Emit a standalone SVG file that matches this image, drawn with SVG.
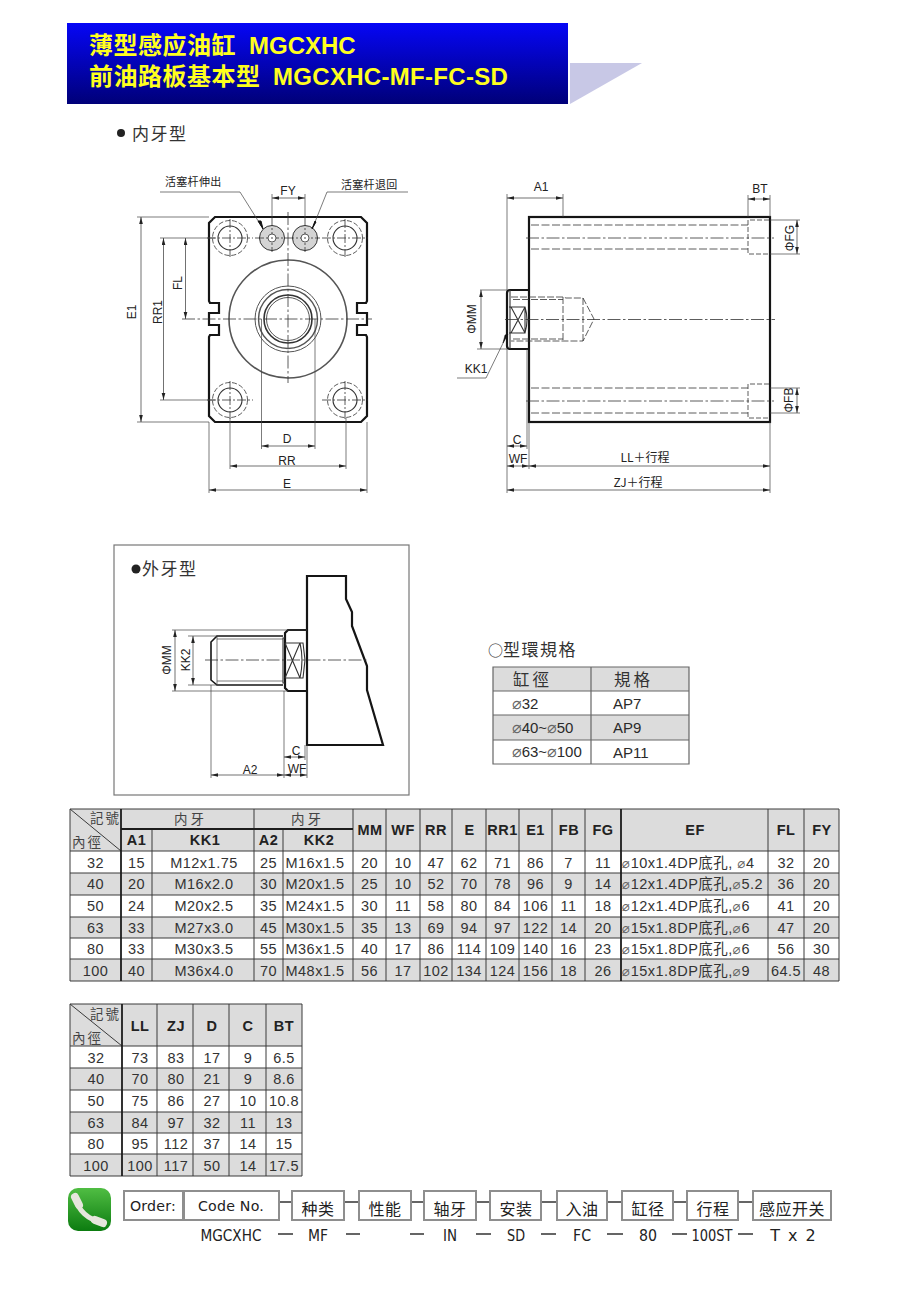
<svg xmlns="http://www.w3.org/2000/svg" xmlns:xlink="http://www.w3.org/1999/xlink" width="910" height="1295" viewBox="0 0 910 1295">
<style>
text{font-family:"Liberation Sans","Noto Sans CJK SC",sans-serif;fill:#2a2a2a}
.cjk{font-family:"Noto Sans CJK SC","Liberation Sans",sans-serif}
.tc{font-family:"Noto Sans CJK TC","Liberation Sans",sans-serif}
.title{font-size:24px;font-weight:700;fill:#ffff1e}
.sec{font-size:17px;letter-spacing:1.5px;fill:#333}
.lab{font-size:12px;text-anchor:middle;fill:#222}
.lead{font-size:11px;letter-spacing:.3px;fill:#222}
.thick{fill:none;stroke:#151515;stroke-width:2.2}
.mid{fill:none;stroke:#333;stroke-width:1.1}
.thin{fill:none;stroke:#444;stroke-width:.7}
.dim{fill:none;stroke:#333;stroke-width:.7;marker-start:url(#a);marker-end:url(#a)}
.cl{fill:none;stroke:#333;stroke-width:.8;stroke-dasharray:13 2.5 2.5 2.5}
.dash{fill:none;stroke:#333;stroke-width:.8;stroke-dasharray:8 2.5}
.cell{font-size:14.5px;letter-spacing:.5px;text-anchor:middle;fill:#333}
.left{text-anchor:start}
.hd{font-size:14.5px;font-weight:700;letter-spacing:.5px;text-anchor:middle;fill:#222}
.zh{font-size:13.5px;letter-spacing:2px;fill:#444}
.hbg{fill:#dcdcdc}
.grid{fill:none;stroke:#3a3a3a;stroke-width:1}
.gridb{fill:none;stroke:#1c1c1c;stroke-width:1.8}
.box{fill:#fff;stroke:#8e8e8e;stroke-width:2}
.ord{font-size:14.2px;letter-spacing:.2px;text-anchor:middle;fill:#222;font-family:"DejaVu Sans","Noto Sans CJK SC",sans-serif}
.ordz{font-size:16px;text-anchor:middle;fill:#222;letter-spacing:.5px}
.sel{font-size:16px;text-anchor:middle;fill:#222;font-family:"DejaVu Sans",sans-serif}
.conn{stroke:#333;stroke-width:1.5;fill:none}
.sp{stroke:#333;stroke-width:1.4;fill:none}
.dia{font-family:"DejaVu Sans",sans-serif;font-size:13.5px;fill:#666}
.dib{font-family:"DejaVu Sans",sans-serif;font-size:16px;fill:#666}
</style>
<defs>
<linearGradient id="bl" x1="0" y1="0" x2="0" y2="1"><stop offset="0" stop-color="#0606f6"/><stop offset="1" stop-color="#000078"/></linearGradient>
<linearGradient id="gr" x1="0" y1="0" x2="0" y2="1"><stop offset="0" stop-color="#50bd43"/><stop offset="1" stop-color="#0c7c10"/></linearGradient>
<marker id="a" markerUnits="userSpaceOnUse" markerWidth="8" markerHeight="5" refX="7" refY="2" orient="auto-start-reverse"><path d="M0 .2L7 2L0 3.8z" fill="#222"/></marker>
<g id="hole">
<circle r="12" class="mid"/>
<circle r="17.5" class="dash" style="stroke-dasharray:5 2"/>
<path d="M-23 0H23M0 -19V19" class="cl" style="stroke-dasharray:9 2 2 2"/>
</g>
</defs>
<rect width="910" height="1295" fill="#fff"/>

<g id="header">
<rect x="67" y="23" width="501" height="81" fill="url(#bl)"/>
<path d="M570 63H642L570 104z" fill="#c8c8e6"/>
<text class="title cjk" y="54"><tspan x="89" style="letter-spacing:.5px">薄型感应油缸</tspan><tspan x="249" style="font-family:'Liberation Sans'">MGCXHC</tspan></text>
<text class="title cjk" y="85"><tspan x="89" style="letter-spacing:.5px">前油路板基本型</tspan><tspan x="273" style="font-family:'Liberation Sans';letter-spacing:.3px">MGCXHC-MF-FC-SD</tspan></text>
</g>

<g id="front-view">
<circle cx="121" cy="133" r="4" fill="#222"/>
<text class="sec cjk" x="132" y="140">内牙型</text>
<path class="thick" d="M215 217H361L367 223V301L366 303H357V313H367V325H357V335H366L367 337V416L361 422H215L209 416V337L210 335H219V325H209V313H219V303H210L209 301V223z"/>
<use xlink:href="#hole" x="230" y="238"/><use xlink:href="#hole" x="345" y="238"/>
<use xlink:href="#hole" x="230" y="400"/><use xlink:href="#hole" x="345" y="400"/>
<circle cx="272" cy="238" r="12.500" fill="#d4d4d4" stroke="#333" stroke-width="1"/>
<circle cx="305" cy="238" r="12.500" fill="#d4d4d4" stroke="#333" stroke-width="1"/>
<path class="cl" d="M255 238H320M272 217V252M305 217V252" style="stroke-dasharray:9 2 2 2"/>
<circle cx="272" cy="238" r="4" fill="#fff" stroke="#333" stroke-width=".8"/>
<circle cx="305" cy="238" r="4" fill="#fff" stroke="#333" stroke-width=".8"/>
<circle cx="272" cy="238" r=".8" fill="#333"/>
<circle cx="305" cy="238" r=".8" fill="#333"/>
<circle cx="288" cy="319" r="59" fill="none" stroke="#555" stroke-width="1.6"/>
<circle cx="288" cy="319" r="33" fill="none" stroke="#555" stroke-width="1"/>
<circle cx="288" cy="319" r="29.500" fill="none" stroke="#555" stroke-width="1.4"/>
<circle cx="288" cy="319" r="24" fill="none" stroke="#333" stroke-width="1.6"/>
<circle cx="288" cy="319" r="21.500" fill="none" stroke="#555" stroke-width="1"/>
<path class="cl" d="M182 319H372M288 212V383"/>
<path class="thin" d="M137 217H209M137 422H209M160 238H215M160 400H215M272 194V217M305 194V217M209 422V493M367 422V493M230 418V469M346 418V469M261.500 319V449M315 319V449"/>
<path class="dim" d="M272 198H305"/>
<path class="dim" d="M141 217V422"/>
<path class="dim" d="M163.500 238V400"/>
<path class="dim" d="M185.500 238V319"/>
<path class="dim" d="M261.500 446H315"/>
<path class="dim" d="M230 466H346"/>
<path class="dim" d="M209 490H367"/>
<path class="thin" d="M160 192H240L262 227M408 192H327L313 227"/>
<path d="M258 221L263 229L261 221z" fill="#111" stroke="#111"/>
<path d="M315 221L312 229L316 222z" fill="#111" stroke="#111"/>
<text class="lead cjk" x="165" y="186">活塞杆伸出</text>
<text class="lead cjk" x="341" y="189">活塞杆退回</text>
<text class="lab" x="288" y="195">FY</text>
<text class="lab" x="287" y="443">D</text>
<text class="lab" x="287" y="465">RR</text>
<text class="lab" x="287" y="488">E</text>
<text class="lab" transform="translate(136 312) rotate(-90)">E1</text>
<text class="lab" transform="translate(162 312) rotate(-90)">RR1</text>
<text class="lab" transform="translate(182 283) rotate(-90)">FL</text>
</g>

<g id="side-view">
<rect class="thick" x="529" y="217" width="241" height="205"/>
<path class="thick" d="M529 290H510Q507 290 507 293V346Q507 349 510 349H529"/>
<path class="mid" d="M510 290V349M509 307H525V333H509M511 307L525 333M525 307L511 333M525 307Q529 320 525 333"/>
<path class="dash" d="M531 225H748M531 249H748M531 388H748M531 413H748"/>
<path class="cl" d="M526 238H774M526 401H774"/>
<path class="dash" d="M769 220H748V254H769M769 384H748V418H769" style="stroke-dasharray:5 2"/>
<path class="cl" d="M505 319.500H775"/>
<path class="dash" d="M511 297H563L566 298H583L594 319L583 341H566L563 341H511M563 297V341M583 298V341M513 299.500H563M513 339H563" style="stroke-dasharray:7 2"/>
<path class="thin" d="M507 194V290M507 349V493M563 194V217M748 195V217M770 195V217M480 290H507M477 349H507M770 220H800M770 254H800M770 388H800M770 413H800M529 422V469M770 422V493M527 349V449"/>
<path class="dim" d="M507 198H563"/>
<path class="dim" d="M748 199H770"/>
<path class="dim" d="M797 220V254"/>
<path class="dim" d="M797 388V413"/>
<path class="dim" d="M481 290V349"/>
<path class="dim" d="M507 446H527"/>
<path class="dim" d="M507 466H529"/>
<path class="dim" d="M529 466H770"/>
<path class="dim" d="M507 490H770"/>
<path class="thin" d="M457 378H486L507 335"/>
<path d="M505 335L508 334L503 343z" fill="#111" stroke="#111" stroke-width=".5"/>
<text class="lab" x="541" y="191">A1</text>
<text class="lab" x="760" y="193">BT</text>
<text class="lab" transform="translate(794 238) rotate(-90)">ΦFG</text>
<text class="lab" transform="translate(793 400) rotate(-90)">ΦFB</text>
<text class="lab" transform="translate(476 319) rotate(-90)">ΦMM</text>
<text class="lab" x="476" y="373">KK1</text>
<text class="lab" x="517" y="444">C</text>
<text class="lab" x="518" y="463">WF</text>
<text class="lab cjk" x="645" y="462">LL＋行程</text>
<text class="lab cjk" x="638" y="487">ZJ＋行程</text>
</g>

<g id="external-thread">
<rect x="114" y="545" width="295" height="250" fill="none" stroke="#777" stroke-width="1.2"/>
<circle cx="136" cy="569" r="4.500" fill="#222"/>
<text class="sec cjk" x="142" y="575">外牙型</text>
<path class="thick" d="M307 576H346V599L352 612V626L367 666V690L383 745H307z"/>
<path class="thick" d="M307 630H288L285 633V688L288 691H307"/>
<path class="mid" d="M285 638H283V683H285"/>
<path class="thick" d="M283 636H217L211 642V680L217 685H283" style="stroke-width:1.6"/>
<path class="thin" d="M217 636V685M217 639H283M217 681H283"/>
<path class="mid" d="M285 643H303L305 660L303 678H285M285 643L300 678M300 643L285 678M300 643Q304 660 300 678"/>
<path class="cl" d="M205 660H367"/>
<path class="thin" d="M172 630H307M172 691H288M188 636H217M188 685H217M211 685V778M284 691V778M307 745V778M305 745V760"/>
<path class="dim" d="M175 630V691"/>
<path class="dim" d="M193 636V685"/>
<path class="dim" d="M211 775H284"/>
<path class="dim" d="M284 775H307"/>
<path class="dim" d="M284 757H305"/>
<text class="lab" transform="translate(171 660) rotate(-90)">ΦMM</text>
<text class="lab" transform="translate(190 660) rotate(-90)">KK2</text>
<text class="lab" x="250" y="774">A2</text>
<text class="lab" x="297" y="773">WF</text>
<text class="lab" x="296" y="755">C</text>
</g>

<g id="oring-table">
<text class="sec tc" y="656"><tspan x="488" style="font-size:15px;letter-spacing:0">○</tspan><tspan x="503">型環規格</tspan></text>
<rect class="hbg" x="493" y="667" width="196" height="24"/>
<rect class="hbg" x="493" y="715" width="196" height="25"/>
<path d="M493 667H689V764H493zM493 691H689M493 715H689M493 740H689M591 667V764" fill="none" stroke="#666" stroke-width="1.2"/>
<text class="tc" x="513" y="686" style="font-size:16.500px;letter-spacing:3px;fill:#333">缸徑</text>
<text class="tc" x="614" y="686" style="font-size:16.500px;letter-spacing:3px;fill:#333">規格</text>
<text x="512" y="709" style="font-size:15px"><tspan class="dib">⌀</tspan>32</text>
<text x="512" y="733" style="font-size:15px"><tspan class="dib">⌀</tspan>40~<tspan class="dib">⌀</tspan>50</text>
<text x="512" y="757" style="font-size:15px"><tspan class="dib">⌀</tspan>63~<tspan class="dib">⌀</tspan>100</text>
<text x="613" y="709" style="font-size:15px">AP7</text>
<text x="613" y="733" style="font-size:15px">AP9</text>
<text x="613" y="758" style="font-size:15px">AP11</text>
</g>

<g id="table-1">
<rect class="hbg" x="70" y="809" width="769" height="42"/>
<rect class="hbg" x="70" y="873" width="769" height="22"/>
<rect class="hbg" x="70" y="917" width="769" height="21"/>
<rect class="hbg" x="70" y="959" width="769" height="22"/>
<path class="grid" d="M70 809H839V981H70zM121 829H353M70 851H839M70 873H839M70 895H839M70 917H839M70 938H839M70 959H839M152 829V981M254 809V981M283 829V981M353 809V981M386 809V981M420 809V981M452 809V981M486 809V981M519 809V981M552 809V981M585 809V981M768 809V981M804 809V981M70 809L121 851"/>
<path class="gridb" d="M121 809V981M621 809V981M121 829H353"/>
<text class="zh tc" x="90" y="823">記號</text>
<text class="zh tc" x="72" y="847">內徑</text>
<text class="zh tc" x="174" y="824" style="letter-spacing:3px">内牙</text>
<text class="zh tc" x="291" y="824" style="letter-spacing:3px">内牙</text>
<text class="hd" x="136.500" y="845">A1</text><text class="hd" x="205" y="845">KK1</text><text class="hd" x="268.500" y="845">A2</text><text class="hd" x="319" y="845">KK2</text>
<text class="hd" x="370" y="835">MM</text><text class="hd" x="403" y="835">WF</text><text class="hd" x="436" y="835">RR</text><text class="hd" x="469.500" y="835">E</text><text class="hd" x="502.500" y="835">RR1</text><text class="hd" x="535.500" y="835">E1</text><text class="hd" x="569" y="835">FB</text><text class="hd" x="603" y="835">FG</text><text class="hd" x="695" y="835">EF</text><text class="hd" x="786" y="835">FL</text><text class="hd" x="822" y="835">FY</text>
<g>
<text class="cell" x="95.500" y="868">32</text><text class="cell" x="136.500" y="868">15</text><text class="cell" x="204" y="868">M12x1.75</text><text class="cell" x="268.500" y="868">25</text><text class="cell" x="315" y="868">M16x1.5</text><text class="cell" x="369.500" y="868">20</text><text class="cell" x="403" y="868">10</text><text class="cell" x="436" y="868">47</text><text class="cell" x="469" y="868">62</text><text class="cell" x="502.500" y="868">71</text><text class="cell" x="535.500" y="868">86</text><text class="cell" x="568.500" y="868">7</text><text class="cell" x="603" y="868">11</text><text class="cell left" x="622" y="868"><tspan class="dia">⌀</tspan>10x1.4DP底孔, <tspan class="dia">⌀</tspan>4</text><text class="cell" x="786" y="868">32</text><text class="cell" x="821.500" y="868">20</text>
</g>
<g>
<text class="cell" x="95.500" y="889">40</text><text class="cell" x="136.500" y="889">20</text><text class="cell" x="204" y="889">M16x2.0</text><text class="cell" x="268.500" y="889">30</text><text class="cell" x="315" y="889">M20x1.5</text><text class="cell" x="369.500" y="889">25</text><text class="cell" x="403" y="889">10</text><text class="cell" x="436" y="889">52</text><text class="cell" x="469" y="889">70</text><text class="cell" x="502.500" y="889">78</text><text class="cell" x="535.500" y="889">96</text><text class="cell" x="568.500" y="889">9</text><text class="cell" x="603" y="889">14</text><text class="cell left" x="622" y="889"><tspan class="dia">⌀</tspan>12x1.4DP底孔,<tspan class="dia">⌀</tspan>5.2</text><text class="cell" x="786" y="889">36</text><text class="cell" x="821.500" y="889">20</text>
</g>
<g>
<text class="cell" x="95.500" y="911">50</text><text class="cell" x="136.500" y="911">24</text><text class="cell" x="204" y="911">M20x2.5</text><text class="cell" x="268.500" y="911">35</text><text class="cell" x="315" y="911">M24x1.5</text><text class="cell" x="369.500" y="911">30</text><text class="cell" x="403" y="911">11</text><text class="cell" x="436" y="911">58</text><text class="cell" x="469" y="911">80</text><text class="cell" x="502.500" y="911">84</text><text class="cell" x="535.500" y="911">106</text><text class="cell" x="568.500" y="911">11</text><text class="cell" x="603" y="911">18</text><text class="cell left" x="622" y="911"><tspan class="dia">⌀</tspan>12x1.4DP底孔,<tspan class="dia">⌀</tspan>6</text><text class="cell" x="786" y="911">41</text><text class="cell" x="821.500" y="911">20</text>
</g>
<g>
<text class="cell" x="95.500" y="933">63</text><text class="cell" x="136.500" y="933">33</text><text class="cell" x="204" y="933">M27x3.0</text><text class="cell" x="268.500" y="933">45</text><text class="cell" x="315" y="933">M30x1.5</text><text class="cell" x="369.500" y="933">35</text><text class="cell" x="403" y="933">13</text><text class="cell" x="436" y="933">69</text><text class="cell" x="469" y="933">94</text><text class="cell" x="502.500" y="933">97</text><text class="cell" x="535.500" y="933">122</text><text class="cell" x="568.500" y="933">14</text><text class="cell" x="603" y="933">20</text><text class="cell left" x="622" y="933"><tspan class="dia">⌀</tspan>15x1.8DP底孔,<tspan class="dia">⌀</tspan>6</text><text class="cell" x="786" y="933">47</text><text class="cell" x="821.500" y="933">20</text>
</g>
<g>
<text class="cell" x="95.500" y="954">80</text><text class="cell" x="136.500" y="954">33</text><text class="cell" x="204" y="954">M30x3.5</text><text class="cell" x="268.500" y="954">55</text><text class="cell" x="315" y="954">M36x1.5</text><text class="cell" x="369.500" y="954">40</text><text class="cell" x="403" y="954">17</text><text class="cell" x="436" y="954">86</text><text class="cell" x="469" y="954">114</text><text class="cell" x="502.500" y="954">109</text><text class="cell" x="535.500" y="954">140</text><text class="cell" x="568.500" y="954">16</text><text class="cell" x="603" y="954">23</text><text class="cell left" x="622" y="954"><tspan class="dia">⌀</tspan>15x1.8DP底孔,<tspan class="dia">⌀</tspan>6</text><text class="cell" x="786" y="954">56</text><text class="cell" x="821.500" y="954">30</text>
</g>
<g>
<text class="cell" x="95.500" y="976">100</text><text class="cell" x="136.500" y="976">40</text><text class="cell" x="204" y="976">M36x4.0</text><text class="cell" x="268.500" y="976">70</text><text class="cell" x="315" y="976">M48x1.5</text><text class="cell" x="369.500" y="976">56</text><text class="cell" x="403" y="976">17</text><text class="cell" x="436" y="976">102</text><text class="cell" x="469" y="976">134</text><text class="cell" x="502.500" y="976">124</text><text class="cell" x="535.500" y="976">156</text><text class="cell" x="568.500" y="976">18</text><text class="cell" x="603" y="976">26</text><text class="cell left" x="622" y="976"><tspan class="dia">⌀</tspan>15x1.8DP底孔,<tspan class="dia">⌀</tspan>9</text><text class="cell" x="786" y="976">64.5</text><text class="cell" x="821.500" y="976">48</text>
</g>
</g>

<g id="table-2">
<rect class="hbg" x="70" y="1004" width="232" height="42"/>
<rect class="hbg" x="70" y="1068" width="232" height="22"/>
<rect class="hbg" x="70" y="1112" width="232" height="21"/>
<rect class="hbg" x="70" y="1154" width="232" height="22"/>
<path class="grid" d="M70 1004H302V1176H70zM70 1046H302M70 1068H302M70 1090H302M70 1112H302M70 1133H302M70 1154H302M157 1004V1176M193 1004V1176M229 1004V1176M266 1004V1176M70 1004L122 1046"/>
<path class="gridb" d="M122 1004V1176"/>
<text class="zh tc" x="90" y="1019">記號</text>
<text class="zh tc" x="72" y="1043">內徑</text>
<text class="hd" x="140" y="1031">LL</text><text class="hd" x="176" y="1031">ZJ</text><text class="hd" x="212" y="1031">D</text><text class="hd" x="248" y="1031">C</text><text class="hd" x="284" y="1031">BT</text>
<text class="cell" x="96" y="1063">32</text><text class="cell" x="140" y="1063">73</text><text class="cell" x="176" y="1063">83</text><text class="cell" x="212" y="1063">17</text><text class="cell" x="248" y="1063">9</text><text class="cell" x="284" y="1063">6.5</text>
<text class="cell" x="96" y="1084">40</text><text class="cell" x="140" y="1084">70</text><text class="cell" x="176" y="1084">80</text><text class="cell" x="212" y="1084">21</text><text class="cell" x="248" y="1084">9</text><text class="cell" x="284" y="1084">8.6</text>
<text class="cell" x="96" y="1106">50</text><text class="cell" x="140" y="1106">75</text><text class="cell" x="176" y="1106">86</text><text class="cell" x="212" y="1106">27</text><text class="cell" x="248" y="1106">10</text><text class="cell" x="284" y="1106">10.8</text>
<text class="cell" x="96" y="1128">63</text><text class="cell" x="140" y="1128">84</text><text class="cell" x="176" y="1128">97</text><text class="cell" x="212" y="1128">32</text><text class="cell" x="248" y="1128">11</text><text class="cell" x="284" y="1128">13</text>
<text class="cell" x="96" y="1149">80</text><text class="cell" x="140" y="1149">95</text><text class="cell" x="176" y="1149">112</text><text class="cell" x="212" y="1149">37</text><text class="cell" x="248" y="1149">14</text><text class="cell" x="284" y="1149">15</text>
<text class="cell" x="96" y="1171">100</text><text class="cell" x="140" y="1171">100</text><text class="cell" x="176" y="1171">117</text><text class="cell" x="212" y="1171">50</text><text class="cell" x="248" y="1171">14</text><text class="cell" x="284" y="1171">17.5</text>
</g>

<g id="phone-icon">
<rect x="68" y="1188" width="43" height="43" rx="10" fill="url(#gr)"/>
<path d="M76 1199C78 1210 88 1220 102 1222" fill="none" stroke="#e6e6dc" stroke-width="5"/>
<path d="M75 1197L79 1205M95 1220L103 1223" fill="none" stroke="#e6e6dc" stroke-width="8" stroke-linecap="round"/>
</g>

<g id="order-connectors">
<path class="conn" d="M279 1202H292M344 1202H359M411 1202H424M476 1202H490M541 1202H557M607 1202H622M673 1202H687M738 1202H753"/>
</g>
<g id="order-boxes">
<g id="box-order"><rect class="box" x="124" y="1191" width="59" height="29"/><text class="ord" x="153" y="1211">Order:</text></g>
<g id="box-code"><rect class="box" x="184" y="1191" width="95" height="29"/><text class="ord" x="231" y="1211">Code No.</text></g>
<g id="box-type"><rect class="box" x="292" y="1191" width="52" height="29"/><text class="ordz cjk" x="318" y="1215">种类</text></g>
<g id="box-perf"><rect class="box" x="359" y="1191" width="52" height="29"/><text class="ordz cjk" x="385" y="1215">性能</text></g>
<g id="box-thread"><rect class="box" x="424" y="1191" width="52" height="29"/><text class="ordz cjk" x="450" y="1215">轴牙</text></g>
<g id="box-mount"><rect class="box" x="490" y="1191" width="51" height="29"/><text class="ordz cjk" x="516" y="1215">安装</text></g>
<g id="box-oil"><rect class="box" x="557" y="1191" width="50" height="29"/><text class="ordz cjk" x="582" y="1215">入油</text></g>
<g id="box-bore"><rect class="box" x="622" y="1191" width="51" height="29"/><text class="ordz cjk" x="648" y="1215">缸径</text></g>
<g id="box-stroke"><rect class="box" x="687" y="1191" width="51" height="29"/><text class="ordz cjk" x="713" y="1215">行程</text></g>
<g id="box-switch"><rect class="box" x="753" y="1191" width="78" height="29"/><text class="ordz cjk" x="792" y="1215">感应开关</text></g>
</g>
<g id="order-code">
<text class="sel" x="231" y="1241" textLength="61" lengthAdjust="spacingAndGlyphs">MGCXHC</text>
<text class="sel" x="318" y="1241" textLength="20" lengthAdjust="spacingAndGlyphs">MF</text>
<text class="sel" x="450" y="1241" textLength="14" lengthAdjust="spacingAndGlyphs">IN</text>
<text class="sel" x="516" y="1241" textLength="18" lengthAdjust="spacingAndGlyphs">SD</text>
<text class="sel" x="582" y="1241" textLength="18" lengthAdjust="spacingAndGlyphs">FC</text>
<text class="sel" x="648" y="1241" textLength="18" lengthAdjust="spacingAndGlyphs">80</text>
<text class="sel" x="712" y="1241" textLength="41" lengthAdjust="spacingAndGlyphs">100ST</text>
<text class="sel" x="793" y="1241" style="word-spacing:3px">T x 2</text>
<path class="sp" d="M278 1234H293M346 1234H360M410 1234H424M476 1234H491M541 1234H556M607 1234H623M672 1234H687M738 1234H753"/>
</g>
</svg>
